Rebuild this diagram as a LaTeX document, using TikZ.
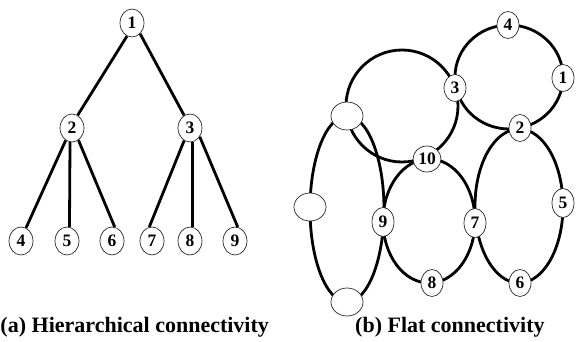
\documentclass[tikz,border=0pt]{standalone}
\usepackage{fontspec}
\setmainfont{Liberation Serif}
\usetikzlibrary{shapes.geometric}
\pgfdeclarelayer{background}
\pgfsetlayers{background,main}
\begin{document}
\begin{tikzpicture}[x=1pt,y=-1pt,
  vert/.style={ellipse,draw=black!85,line width=0.7pt,fill=white,inner sep=0pt,
    minimum width=24pt,minimum height=28pt,
    font=\fontsize{17.5}{17.5}\selectfont\bfseries},
  rvert/.style={vert,minimum width=22pt,minimum height=27pt},
  blank/.style={vert,minimum width=32pt,minimum height=28pt},
  link/.style={line width=2.8pt,black},
  caption/.style={anchor=base west,inner sep=0pt,
    font=\fontsize{22}{22}\selectfont\bfseries}]
\useasboundingbox (0,0) rectangle (579,342);

% ---- (a) hierarchical tree ----
\node[vert] (t1) at (132,23) {1};
\node[vert] (t2) at (72,128) {2};
\node[vert] (t3) at (190,128) {3};
\node[vert] (t4) at (21,241) {4};
\node[vert] (t5) at (67,241) {5};
\node[vert] (t6) at (112,241) {6};
\node[vert] (t7) at (152,241) {7};
\node[vert] (t8) at (190,241) {8};
\node[vert] (t9) at (235,241) {9};

\draw[link] (t1.-111) -- (t2.66);
\draw[link] (t1.-53) -- (t3.115);
\draw[link] (t2.-117) -- (t4.69);
\draw[link] (t2.-98) -- (t5.80);
\draw[link] (t2.-62) -- (t6.79);
\draw[link] (t3.-115) -- (t7.101);
\draw[link] (t3.-79) -- (t8.79);
\draw[link] (t3.-42) -- (t9.79);

\node[caption] (capa) at (0.3,332) {(a) Hierarchical connectivity};

% ---- (b) flat connectivity: rings of peers ----
\node[rvert] (r4) at (508,25) {4};
\node[rvert] (r1) at (563,78) {1};
\node[rvert] (r3) at (455,88) {3};
\node[rvert] (r2) at (520,128) {2};
\node[blank] (ra) at (347,116) {};
\node[rvert,minimum width=28pt,minimum height=26pt] (r10) at (427,159) {10};
\node[blank] (rb) at (310,207) {};
\node[rvert,minimum height=29pt] (r9) at (383,222) {9};
\node[rvert,minimum height=29pt] (r7) at (475,223) {7};
\node[rvert,minimum height=29pt] (r5) at (563,203) {5};
\node[rvert] (r8) at (432,283) {8};
\node[rvert] (r6) at (520,283) {6};
\node[blank] (rc) at (347,302) {};

\coordinate (ringtop) at (402,106);
\coordinate (ringleft) at (347,209);
\coordinate (ringmid) at (429,221);
\coordinate (ringright) at (519,206);
\coordinate (ringne) at (509,77);

\begin{pgfonlayer}{background}
  \draw[link] (ringtop) circle[radius=56pt];
  \draw[link] (ringleft) ellipse[x radius=37pt,y radius=93pt];
  \draw[link] (ringmid) ellipse[x radius=46pt,y radius=62pt];
  \draw[link] (ringright) ellipse[x radius=44pt,y radius=77pt];
  \draw[link] (ringne) ellipse[x radius=54pt,y radius=52pt];
\end{pgfonlayer}

\node[caption] (capb) at (355,332) {(b) Flat connectivity};
\end{tikzpicture}
\end{document}
